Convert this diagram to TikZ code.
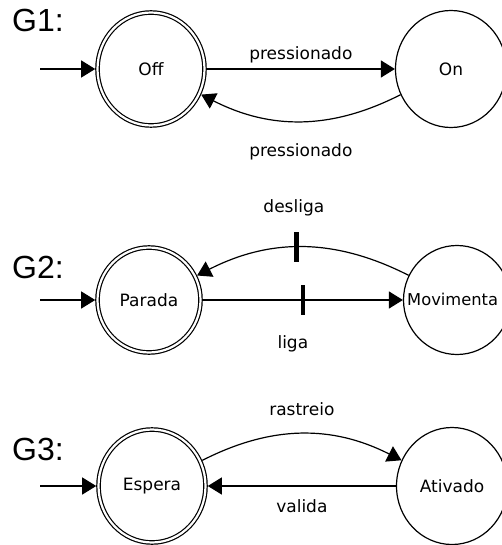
\documentclass[tikz,border=0pt]{standalone}
\usepackage{fontspec}
\newfontfamily\statefont{DejaVu Sans}
\newfontfamily\grafofont{Liberation Sans}
\usetikzlibrary{arrows.meta,shapes.geometric}
\begin{document}
\begin{tikzpicture}[x=1pt,y=-1pt,
  state/.style={ellipse, draw, line width=1.2pt, inner sep=0pt,
    minimum width=111pt, minimum height=117pt,
    font=\statefont\fontsize{17}{20}\selectfont},
  accepting/.style={double, double distance=2.2pt,
    minimum width=107pt, minimum height=113pt, outer sep=2.3pt},
  trans/.style={draw, line width=1.2pt, -{Triangle[length=14pt,width=17pt]}},
  lbl/.style={font=\statefont\fontsize{17}{20}\selectfont, inner sep=0pt,
    text height=13pt, text depth=4pt},
  tickmark/.style={fill=black, draw=none, inner sep=0pt,
    minimum width=4.5pt, minimum height=30pt},
  glabel/.style={font=\grafofont\fontsize{32}{36}\selectfont, inner sep=0pt, anchor=base west}
]
\useasboundingbox (0,0) rectangle (502,545);

% ---- G1 ----
\node[glabel] (g1) at (12,32) {G1:};
\node[state, accepting] (off) at (151,69) {Off};
\node[state] (on) at (451,69) {On};
\coordinate (s1) at (40,69);
\draw[trans] (s1) -- (off);
\draw[trans] (off) -- node[lbl, above=5pt] (l1a) {pressionado} (on);
\draw[trans] (on) to[bend left=27] node[lbl, below=22pt] (l1b) {pressionado} (off);

% ---- G2 ----
\node[glabel] (g2) at (12,278) {G2:};
\node[state, accepting, minimum width=103pt, minimum height=105pt] (par) at (149,300) {Parada};
\node[state, minimum width=107pt, minimum height=109pt] (mov) at (457,300) {};
\node[lbl, anchor=west, font=\statefont\fontsize{16.3}{19}\selectfont] (movtxt) at (407,301) {Movimenta};
\coordinate (s2) at (40,300);
\draw[trans] (s2) -- (par);
\draw[trans] (par) -- node[tickmark] (t2a) {}
  node[lbl, below=35pt, xshift=-10pt] (l2a) {liga} (mov);
\draw[trans] (mov) to[bend right=27] node[tickmark, pos=0.53] (t2b) {}
  node[lbl, above=30pt, xshift=-9pt] (l2b) {desliga} (par);

% ---- G3 ----
\node[glabel] (g3) at (12,460) {G3:};
\node[state, accepting] (esp) at (152,486) {Espera};
\node[state] (ati) at (452,486) {Ativado};
\coordinate (s3) at (40,486);
\draw[trans] (s3) -- (esp);
\draw[trans] (esp) to[bend left=27] node[lbl, above=14pt] (l3a) {rastreio} (ati);
\draw[trans] (ati) -- node[lbl, below=13pt] (l3b) {valida} (esp);
\end{tikzpicture}
\end{document}
